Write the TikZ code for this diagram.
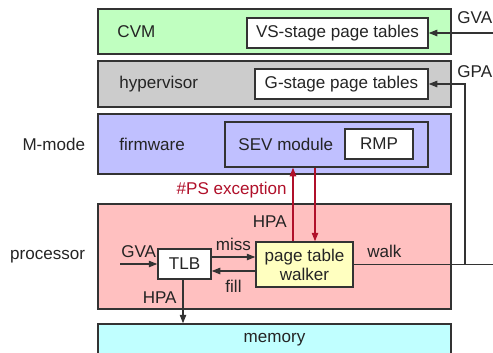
\documentclass[tikz,border=0pt]{standalone}
\usepackage{fontspec}
\setmainfont{Liberation Sans}
\usetikzlibrary{arrows.meta,positioning,calc}
\definecolor{CvmGreen}{HTML}{C0FFC0}
\definecolor{HvGray}{HTML}{CCCCCC}
\definecolor{FwLavender}{HTML}{C0C0FF}
\definecolor{ProcPink}{HTML}{FFC0C0}
\definecolor{WalkerYellow}{HTML}{FFFFC0}
\definecolor{MemCyan}{HTML}{C0FFFF}
\definecolor{EdgeGray}{HTML}{333333}
\definecolor{AlertRed}{HTML}{B0102A}
\tikzset{
  layer/.style={draw=EdgeGray, line width=0.85pt, minimum width=70.6mm, inner sep=0pt},
  cvmlayer/.style={layer, fill=CvmGreen, minimum height=9mm},
  hvlayer/.style={layer, fill=HvGray, minimum height=9.2mm},
  fwlayer/.style={layer, fill=FwLavender, minimum height=12mm},
  proclayer/.style={layer, fill=ProcPink, minimum height=21mm},
  memlayer/.style={layer, fill=MemCyan, minimum height=6.4mm},
  tablebox/.style={draw=EdgeGray, line width=0.85pt, fill=white, minimum height=6mm, inner sep=0pt},
  sevbox/.style={draw=EdgeGray, line width=0.85pt, fill=FwLavender, minimum width=40.6mm,
    minimum height=9mm, inner sep=0pt},
  walkerbox/.style={draw=EdgeGray, line width=0.85pt, fill=WalkerYellow, align=center,
    minimum width=19.4mm, minimum height=9mm, inner sep=0pt},
  line/.style={line width=0.6pt, draw=EdgeGray},
  wire/.style={line, -{Triangle[length=1.7mm, width=1.3mm]}},
  redwire/.style={wire, draw=AlertRed},
  edgelabel/.style={anchor=east, inner xsep=0pt}
}

\begin{document}
\begin{tikzpicture}[x=0.2mm, y=-0.2mm,
    every node/.append style={font=\fontsize{9.7}{10.8}\selectfont, text=EdgeGray!70!black}]
  \clip (0,0) rectangle (493,352);
  % layers
  \node[cvmlayer] (cvm) at (274.5,31.5) {};
  \node[anchor=west] (cvmlabel) at ([xshift=2.8mm]cvm.west) {CVM};
  \node[tablebox, minimum width=36.2mm] (vstable) at (337.5,33) {VS-stage page tables};
  \node[hvlayer] (hv) at (274.5,84) {};
  \node[anchor=west] (hvlabel) at ([xshift=3.2mm]hv.west) {hypervisor};
  \node[tablebox, minimum width=34.6mm] (gtable) at (341.5,84) {G-stage page tables};
  \node[fwlayer] (fw) at (274.5,144) {};
  \node[anchor=west] (fwlabel) at ([xshift=3.2mm]fw.west) {firmware};
  \node[left=1.2mm of fw] (mmode) {M-mode};
  \node[sevbox] (sev) at (326.5,144.5) {};
  \node[anchor=west] (sevlabel) at ([xshift=1.6mm]sev.west) {SEV module};
  \node[tablebox, minimum width=13.6mm] (rmp) at (379,144) {RMP};
  \node[proclayer] (proc) at (274.5,256.5) {};
  \node[left=1.2mm of proc] (proclabel) {processor};
  \node[tablebox, minimum width=10.6mm] (tlb) at (184.5,264) {TLB};
  \node[walkerbox] (walker) at (304.5,264.5) {page table\\walker};
  \node[memlayer] (mem) at (274.5,340) {memory};
  % address labels at the right
  \node[edgelabel] (gvatop) at (492.5,18) {GVA};
  \node[edgelabel] (gpatop) at (492.5,72) {GPA};
  \coordinate (gvain) at (493,33);
  \coordinate (gvastart) at (120,264);
  \coordinate (walkend) at (493,264.5);
  \coordinate (gpaturn) at (465,264.5);
  % connectors
  \draw[wire] (gvain) -- (vstable.east);
  \draw[line] (walker.east) -- node[above, pos=0.22] (walklabel) {walk} (walkend);
  \draw[wire] (gpaturn) |- (gtable.east);
  \draw[wire] (gvastart) -- node[above] (gvalabel) {GVA} (tlb.west);
  \draw[wire] ([yshift=1.4mm]tlb.east) -- node[above] (misslabel) {miss}
    ([yshift=1.4mm]tlb.east -| walker.west);
  \draw[wire] ([yshift=-1.4mm]tlb.east -| walker.west) -- node[below, yshift=-0.6mm] (filllabel) {fill}
    ([yshift=-1.4mm]tlb.east);
  \draw[wire] ([xshift=-0.3mm]tlb.south) -- node[left, pos=0.4] (hpalow) {HPA}
    ([xshift=-0.3mm]tlb.south |- mem.north);
  \draw[redwire] ([xshift=-2.3mm]walker.north)
    -- node[left, pos=0.27] (hpahigh) {HPA}
       node[left, pos=0.69, text=AlertRed] (pslabel) {\#PS exception}
    ([xshift=-2.3mm]walker.north |- sev.south);
  \draw[redwire] ([xshift=2.1mm]walker.north |- sev.south) -- ([xshift=2.1mm]walker.north);
\end{tikzpicture}
\end{document}
